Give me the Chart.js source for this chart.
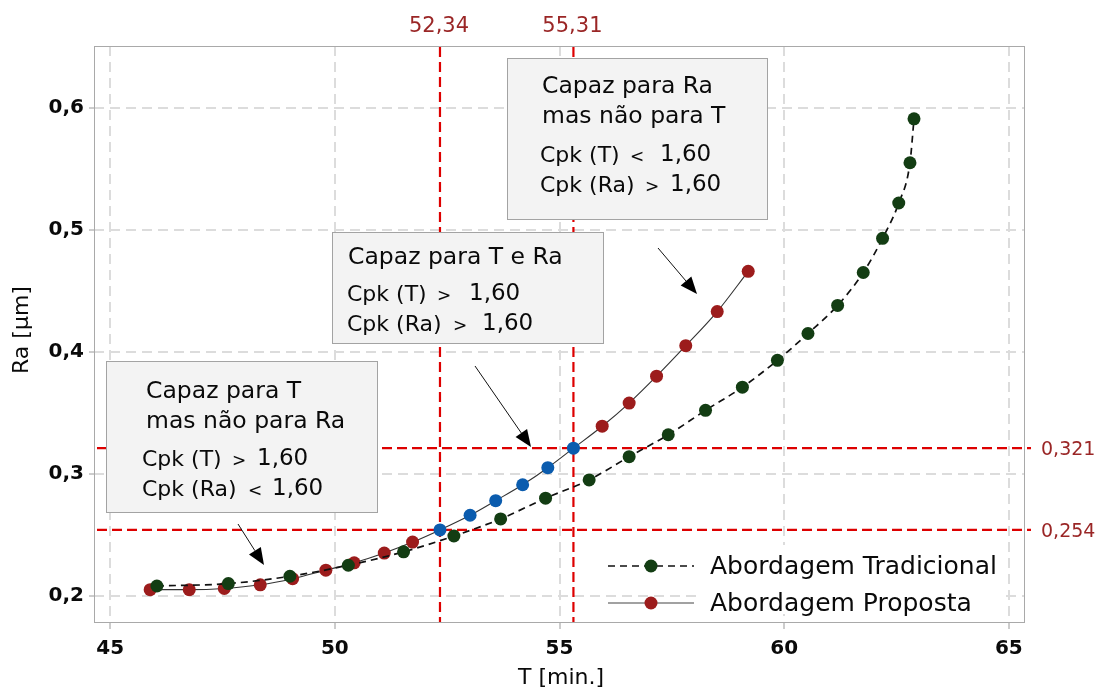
<!DOCTYPE html>
<html><head><meta charset="utf-8">
<script src="https://cdn.jsdelivr.net/npm/chart.js@4.4.1/dist/chart.umd.min.js"></script>
<style>html,body{margin:0;padding:0;background:#fff;}#wrap{width:1100px;height:690px;position:relative;}canvas{display:block;}</style>
</head><body><div id="wrap"><canvas id="c" width="1100" height="690"></canvas></div>
<script>
// ---- data ----
const tradT  = [46.04,47.63,49.00,50.30,51.53,52.65,53.69,54.69,55.66,56.55,57.42,58.25,59.07,59.85,60.53,61.19,61.76,62.19,62.55,62.80,62.89];
const tradRa = [0.208,0.210,0.216,0.225,0.236,0.249,0.263,0.280,0.295,0.314,0.332,0.352,0.371,0.393,0.415,0.438,0.465,0.493,0.522,0.555,0.591];
const propT  = [45.89,46.76,47.54,48.34,49.06,49.80,50.43,51.10,51.73,52.34,53.01,53.58,54.18,54.74,55.31,55.95,56.55,57.16,57.81,58.51,59.20];
const propRa = [0.205,0.205,0.206,0.209,0.214,0.221,0.227,0.235,0.244,0.254,0.266,0.278,0.291,0.305,0.321,0.339,0.358,0.380,0.405,0.433,0.466];
const tLimits  = [52.34, 55.31];
const raLimits = [0.321, 0.254];
const xTicks = [45, 50, 55, 60, 65];
const yTicks = [0.2, 0.3, 0.4, 0.5, 0.6];
const seriesNames = ['Abordagem Tradicional', 'Abordagem Proposta'];
const xTitle = 'T [min.]';
const yTitle = 'Ra [µm]';

// ---- style ----
const FONT = 'DejaVu Sans';
const COL = {green:'#133d13', red:'#9c1c1c', blue:'#0b5cae', limit:'#dd0000', limitText:'#9a2626',
  grid:'#dcdcdc', frame:'#a9a9a9', box:'#f3f3f3', boxBorder:'#a3a3a3', text:'#0a0a0a'};
const fmt = v => String(v).replace('.', ',');

const propColors = propT.map(t => (t >= tLimits[0] - 0.02 && t <= tLimits[1] + 0.02) ? COL.blue : COL.red);

// annotation boxes (layout in canvas pixels)
const notes = [
  {box:[507,58,767,219],
   lines:[['Capaz para Ra',542,93],['mas não para T',542,123]],
   rows:[{y:162, segs:[['Cpk (T)',540,22],['<',630,17],['1,60',660,23]]},
         {y:192, segs:[['Cpk (Ra)',540,22],['>',645,17],['1,60',670,23]]}]},
  {box:[332,232,603,343],
   lines:[['Capaz para T e Ra',348,264]],
   rows:[{y:301, segs:[['Cpk (T)',347,22],['>',437,17],['1,60',469,23]]},
         {y:331, segs:[['Cpk (Ra)',347,22],['>',453,17],['1,60',482,23]]}]},
  {box:[106,361,377,512],
   lines:[['Capaz para T',146,398],['mas não para Ra',146,428]],
   rows:[{y:466, segs:[['Cpk (T)',142,22],['>',232,17],['1,60',257,23]]},
         {y:496, segs:[['Cpk (Ra)',142,22],['<',248,17],['1,60',272,23]]}]}
];
const arrows = [[658,248,697,294],[475,366,531,447],[238,524,264,565]];

function dashedLine(ctx, x1, y1, x2, y2, color, w, dash){
  ctx.save(); ctx.strokeStyle = color; ctx.lineWidth = w; ctx.setLineDash(dash);
  ctx.beginPath(); ctx.moveTo(x1, y1); ctx.lineTo(x2, y2); ctx.stroke(); ctx.restore();
}

const deco = {
  id:'deco',
  beforeDatasetsDraw(chart){
    const {ctx, chartArea:a, scales:{x, y}} = chart;
    ctx.save(); ctx.strokeStyle = COL.frame; ctx.lineWidth = 1;
    ctx.strokeRect(a.left + 0.5, a.top + 0.5, a.right - a.left - 1, a.bottom - a.top);
    ctx.restore();
    tLimits.forEach(v => {
      const px = x.getPixelForValue(v);
      dashedLine(ctx, px, a.top + 1, px, a.bottom, COL.limit, 2.2, [10,5]);
      ctx.save(); ctx.fillStyle = COL.limitText; ctx.font = '21px "' + FONT + '"';
      ctx.textAlign = 'center'; ctx.textBaseline = 'alphabetic';
      ctx.fillText(fmt(v), px - 1, 32); ctx.restore();
    });
    raLimits.forEach(v => {
      const py = y.getPixelForValue(v);
      dashedLine(ctx, a.left + 3, py, a.right + 6, py, COL.limit, 2.2, [10,5]);
      ctx.save(); ctx.fillStyle = COL.limitText; ctx.font = '19px "' + FONT + '"';
      ctx.textAlign = 'left'; ctx.textBaseline = 'middle';
      ctx.fillText(fmt(v), a.right + 16, py + 2); ctx.restore();
    });
  },
  afterDatasetsDraw(chart){
    const {ctx, chartArea:a} = chart;
    notes.forEach(n => {
      const [l,t,r,b] = n.box;
      ctx.save();
      ctx.fillStyle = COL.box; ctx.fillRect(l, t, r - l, b - t);
      ctx.strokeStyle = COL.boxBorder; ctx.lineWidth = 1; ctx.strokeRect(l + 0.5, t + 0.5, r - l, b - t);
      ctx.fillStyle = COL.text; ctx.textBaseline = 'alphabetic'; ctx.textAlign = 'left';
      ctx.font = '23.5px "' + FONT + '"';
      n.lines.forEach(([s, x, y]) => ctx.fillText(s, x, y));
      n.rows.forEach(row => row.segs.forEach(([s, x, sz]) => {
        ctx.font = sz + 'px "' + FONT + '"'; ctx.fillText(s, x, row.y - (sz > 22 ? 1 : 0));
      }));
      ctx.restore();
    });
    arrows.forEach(([x1,y1,x2,y2]) => {
      const ang = Math.atan2(y2 - y1, x2 - x1), L = 17, W = 7;
      const bx = x2 - L * Math.cos(ang), by = y2 - L * Math.sin(ang);
      ctx.save(); ctx.strokeStyle = '#111'; ctx.fillStyle = '#000'; ctx.lineWidth = 1;
      ctx.beginPath(); ctx.moveTo(x1, y1); ctx.lineTo(bx, by); ctx.stroke();
      ctx.beginPath(); ctx.moveTo(x2, y2);
      ctx.lineTo(bx + W * Math.sin(ang), by - W * Math.cos(ang));
      ctx.lineTo(bx - W * Math.sin(ang), by + W * Math.cos(ang));
      ctx.closePath(); ctx.fill(); ctx.restore();
    });
    ctx.save();
    ctx.fillStyle = '#fff'; ctx.fillRect(698, 545, 308, 69);
    const items = [
      {name:seriesNames[0], y:566, dash:[7,5], color:'#111', w:1.6, pt:COL.green},
      {name:seriesNames[1], y:603, dash:[], color:'#444', w:1.2, pt:COL.red}
    ];
    items.forEach(it => {
      dashedLine(ctx, 608, it.y, 694, it.y, it.color, it.w, it.dash);
      ctx.fillStyle = it.pt; ctx.beginPath(); ctx.arc(651, it.y, 6.5, 0, Math.PI * 2); ctx.fill();
      ctx.fillStyle = COL.text; ctx.font = '25px "' + FONT + '"'; ctx.textBaseline = 'middle'; ctx.textAlign = 'left';
      ctx.fillText(it.name, 710, it.y + 1);
    });
    ctx.restore();
    ctx.save(); ctx.fillStyle = COL.text; ctx.font = '22px "' + FONT + '"';
    ctx.textAlign = 'center'; ctx.textBaseline = 'middle';
    ctx.fillText(xTitle, 561, 678);
    ctx.translate(22, 330); ctx.rotate(-Math.PI / 2);
    ctx.fillText(yTitle, 0, 0);
    ctx.restore();
  }
};

new Chart(document.getElementById('c'), {
  type:'line',
  data:{datasets:[
    {label:seriesNames[0], data:tradT.map((t,i)=>({x:t, y:tradRa[i]})),
     borderColor:'#111', borderWidth:1.7, borderDash:[7,5], cubicInterpolationMode:'monotone',
     pointRadius:6.5, pointBorderWidth:0, pointBackgroundColor:COL.green, pointHoverRadius:6.5},
    {label:seriesNames[1], data:propT.map((t,i)=>({x:t, y:propRa[i]})),
     borderColor:'#333', borderWidth:1.1, cubicInterpolationMode:'monotone',
     pointRadius:6.5, pointBorderWidth:0, pointBackgroundColor:propColors, pointHoverRadius:6.5}
  ]},
  options:{
    responsive:false, animation:false, devicePixelRatio:1,
    layout:{padding:{top:46, right:75, left:0, bottom:0}},
    plugins:{legend:{display:false}, tooltip:{enabled:false}},
    scales:{
      x:{type:'linear', min:44.64, max:65.36,
         afterBuildTicks:s => { s.ticks = xTicks.map(v => ({value:v})); },
         afterFit:s => { s.height = 68; },
         grid:{color:COL.grid, lineWidth:2, tickLength:7, tickColor:'#9a9a9a', tickWidth:1, tickBorderDash:[]},
         border:{display:false, dash:[10,6]},
         ticks:{color:COL.text, padding:8, font:{family:FONT, size:20, weight:'bold'}, callback:v => fmt(v), maxRotation:0}},
      y:{type:'linear', min:0.1785, max:0.6507,
         afterBuildTicks:s => { s.ticks = yTicks.map(v => ({value:v})); },
         afterFit:s => { s.width = 94; },
         grid:{color:COL.grid, lineWidth:2, tickLength:5, tickColor:'#9a9a9a', tickWidth:1, tickBorderDash:[]},
         border:{display:false, dash:[10,6]},
         ticks:{color:COL.text, padding:5, font:{family:FONT, size:20, weight:'bold'}, callback:v => fmt(v)}}
    }
  },
  plugins:[deco]
});
</script></body></html>
